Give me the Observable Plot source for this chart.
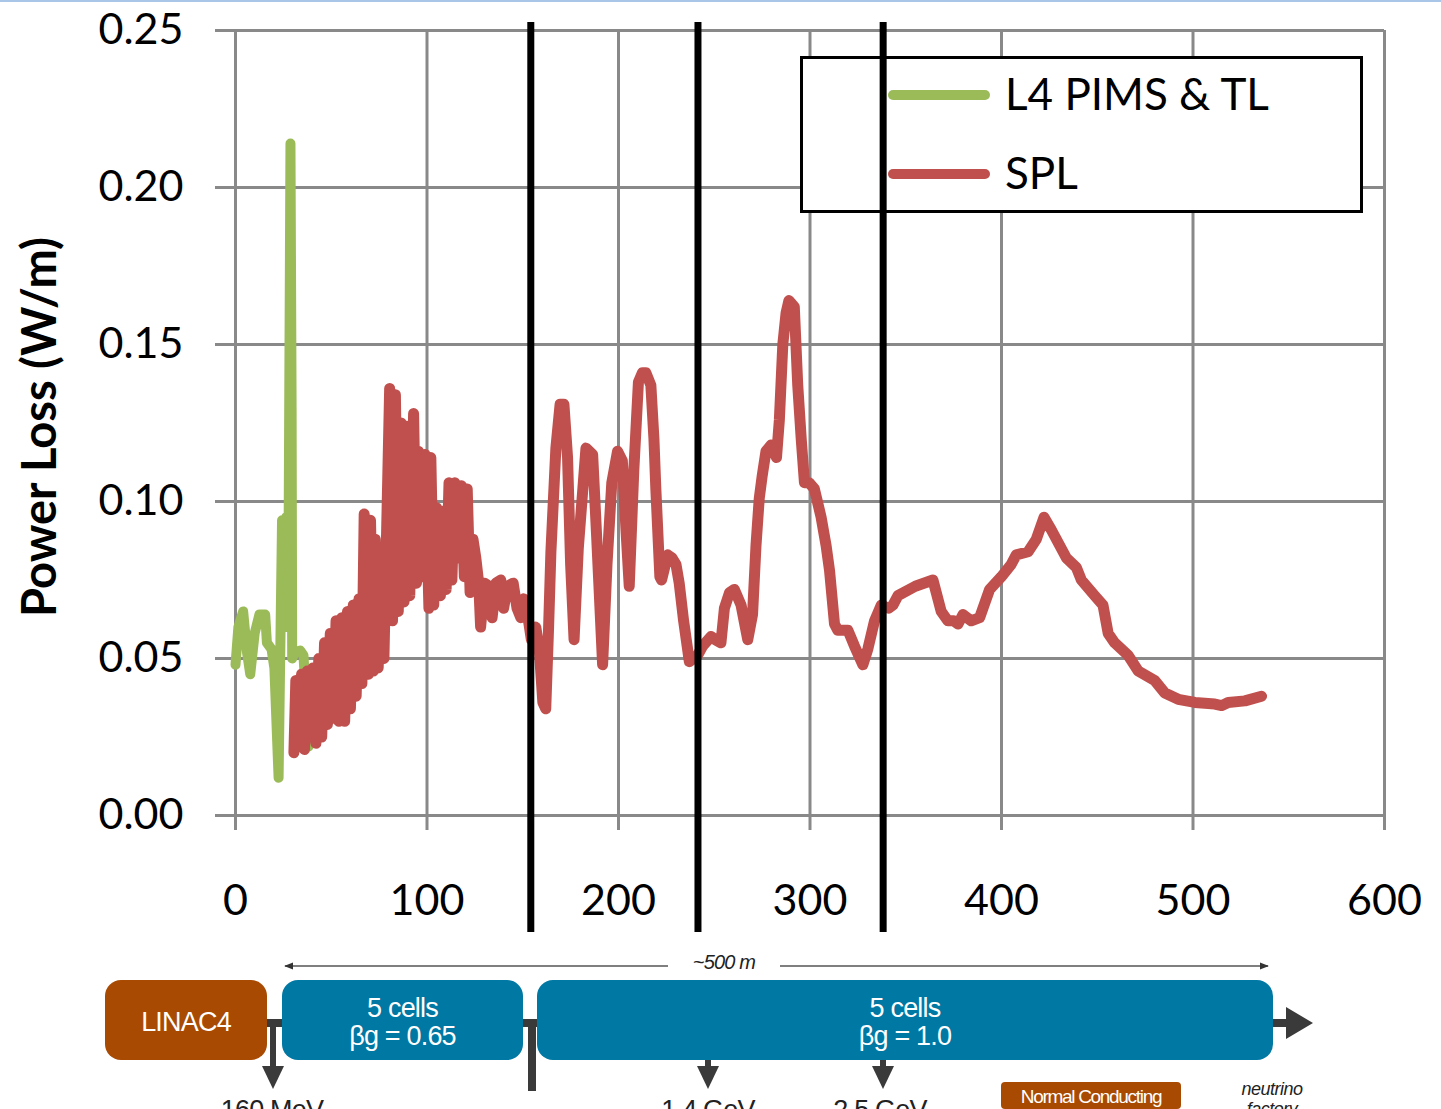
<!DOCTYPE html>
<html>
<head>
<meta charset="utf-8">
<script src="https://cdn.jsdelivr.net/npm/d3@7"></script>
<script src="https://cdn.jsdelivr.net/npm/@observablehq/plot@0.6"></script>
<style>
  html, body { margin: 0; padding: 0; background: #fff; }
  #stage { position: relative; width: 1441px; height: 1109px; overflow: hidden; background: #fff; border-top: 2px solid #a9c6e8; box-sizing: border-box; }
  #stage > * { position: absolute; left: 0; top: 0; }
  #legend { left: 800px; top: 54px; width: 557px; height: 151px; border: 3px solid #000; background: #fff; font-family: Lato, "Open Sans", sans-serif; font-size: 44px; color: #000; }
  #legend .sw { position: absolute; left: 85px; width: 102px; height: 10px; border-radius: 5px; }
  #legend .lb { position: absolute; left: 202px; line-height: 1; }
  #schem text { font-family: "Liberation Sans", Arial, sans-serif; }
</style>
</head>
<body>
<div id="stage"></div>
<script>
// ---------------- data ----------------
const seriesNames = ["L4 PIMS & TL", "SPL"];
const seriesColors = ["#9BBB59", "#C0504D"];
const xTicks = [0, 100, 200, 300, 400, 500, 600];
const yTicks = [0, 0.05, 0.10, 0.15, 0.20, 0.25];
const yLabel = "Power Loss (W/m)";
const sectionBounds = [154.2, 241.5, 338.2];

// L4 PIMS & TL (green)
const l4Pims = [
  [0,0.048],[1.5,0.060],[4,0.065],[6,0.052],[7.7,0.045],[10,0.058],[12.5,0.064],[15.5,0.064],
  [16.4,0.055],[18.8,0.053],[20.3,0.047],[22.5,0.012],[24.3,0.094],[25.5,0.060],[26.5,0.095],
  [27.5,0.060],[28.7,0.214],[29.3,0.130],[29.6,0.050],[31,0.052],[33.8,0.0525],[35.5,0.051],[38.2,0.022]
];

// SPL (red)
const spl = [
  [30.5,0.020],[31.5,0.043],[33,0.028],[34.5,0.045],[36,0.021],[37.5,0.046],[39,0.025],[40.5,0.047],
  [42,0.023],[43.5,0.050],[45,0.025],[46.5,0.055],[48,0.029],[49.5,0.058],[51,0.031],[52.5,0.062],
  [54,0.030],[55.5,0.063],[57,0.030],[58.5,0.065],[60,0.034],[61.5,0.067],[63,0.038],[64.5,0.069],
  [66,0.042],[67.2,0.096],[68.5,0.082],[69.5,0.045],[70.5,0.094],[72,0.046],[73,0.088],[74.5,0.047],
  [76,0.072],[77.5,0.050],[80.5,0.136],[82,0.062],[83.5,0.134],[85,0.065],[86.5,0.125],[88,0.068],
  [89.5,0.124],[91,0.070],[93,0.128],[94.5,0.074],[95.5,0.116],[97,0.076],[99,0.115],[101,0.066],
  [102,0.114],[103.5,0.067],[105,0.098],[107,0.070],[108.5,0.097],[110,0.072],[111.5,0.106],[113,0.075],
  [114.5,0.106],[116,0.082],[118,0.105],[119.5,0.076],[121,0.104],[122.5,0.071],[124,0.088],[125.5,0.082],
  [127,0.074],[128,0.060],[130,0.074],[132.5,0.073],[134,0.063],[136,0.074],[138.5,0.075],[140,0.066],
  [142,0.073],[145,0.074],[147,0.066],[149,0.063],[150.5,0.069],[152.5,0.064],[154.5,0.056],[156.8,0.060],
  [158.6,0.053],[160.5,0.036],[162,0.034],[163.5,0.060],[164.7,0.084],[167.3,0.117],[169.5,0.131],[171.5,0.131],
  [173.4,0.114],[175,0.080],[176.8,0.056],[179,0.085],[183,0.117],[186.5,0.115],[188.5,0.090],[191.7,0.048],
  [194,0.080],[196.5,0.106],[199.5,0.116],[202,0.113],[204,0.090],[205.6,0.073],[208,0.110],[210.4,0.138],
  [212.5,0.141],[214.3,0.141],[216.9,0.137],[218.5,0.120],[219.5,0.104],[221.6,0.076],[222.5,0.075],[225.7,0.083],
  [228,0.082],[230,0.080],[231.7,0.074],[234,0.062],[237,0.049],[241.3,0.051],[244,0.054],[248.3,0.057],
  [250.5,0.056],[253.5,0.055],[255.3,0.066],[258,0.071],[260.5,0.072],[264,0.067],[267.5,0.056],[270,0.064],
  [271.8,0.086],[273.5,0.101],[275,0.108],[277,0.116],[279.7,0.118],[282.5,0.114],[284,0.126],[285.8,0.150],
  [287.5,0.160],[289,0.164],[291.8,0.162],[293.6,0.137],[295.4,0.120],[297.1,0.106],[299.5,0.106],[302.3,0.104],
  [305.8,0.095],[308.4,0.086],[310.2,0.078],[312.8,0.061],[314.5,0.059],[319.8,0.059],[323.2,0.054],[327.6,0.048],
  [330.2,0.053],[333.7,0.062],[337.2,0.067],[341,0.066],[343.3,0.067],[345.9,0.070],[355,0.073],[364.2,0.075],
  [368.5,0.065],[372,0.062],[375,0.062],[377.3,0.061],[379.9,0.064],[384.2,0.062],[388.6,0.063],[393.8,0.072],
  [399.9,0.076],[405.1,0.080],[407.7,0.083],[413.9,0.084],[418.2,0.088],[422.2,0.095],[426,0.091],[433.9,0.082],
  [439.1,0.079],[441.7,0.075],[448.7,0.070],[453,0.067],[455.7,0.058],[459.1,0.055],[466.1,0.051],[471.4,0.046],
  [480,0.043],[485.3,0.039],[492.3,0.037],[501,0.036],[511.4,0.0355],[515,0.035],[518.4,0.036],[527.1,0.0365],
  [535.8,0.038]
];

// schematic below the chart
const stageBoxes = [
  {name: "LINAC4", lines: ["LINAC4"], kind: "nc"},
  {name: "b065", lines: ["5 cells", "βg = 0.65"], kind: "sc"},
  {name: "b10", lines: ["5 cells", "βg = 1.0"], kind: "sc"}
];
const energyLabels = ["160 MeV", "1.4 GeV", "2.5 GeV"];
const lengthLabel = "~500 m";
const ncLabel = "Normal Conducting";
const destLabel = ["neutrino", "factory"];

// ---------------- chart ----------------
const W = 1441, H = 945;
const common = {
  width: W, height: H,
  marginTop: 28, marginLeft: 235, marginRight: 57, marginBottom: 132
};
const stage = document.getElementById("stage");

const chart = Plot.plot({
  ...common,
  style: {fontFamily: "Lato, 'Open Sans', sans-serif", fontSize: "43px", color: "#000", background: "transparent", overflow: "visible"},
  x: {domain: [0, 600], ticks: xTicks, tickSize: 0, tickPadding: 69, label: null, tickFormat: d => String(d)},
  y: {domain: [0, 0.25], ticks: yTicks, tickSize: 0, tickPadding: 52, label: null, tickFormat: d => d.toFixed(2)},
  marks: [
    Plot.ruleX(xTicks, {x: d => d, stroke: "#898989", strokeWidth: 3, strokeOpacity: 1, insetBottom: -15}),
    Plot.ruleY(yTicks, {y: d => d, stroke: "#898989", strokeWidth: 3, strokeOpacity: 1, insetLeft: -20}),
    Plot.line(l4Pims, {stroke: seriesColors[0], strokeWidth: 10, strokeLinejoin: "round", strokeLinecap: "round"}),
    Plot.line(spl, {stroke: seriesColors[1], strokeWidth: 11, strokeLinejoin: "round", strokeLinecap: "round"}),
    Plot.text([yLabel], {text: d => d, frameAnchor: "left", dx: -195, dy: 4, rotate: -90, textAnchor: "middle",
      fontWeight: "bold", fontSize: 47, fill: "#000"})
  ]
});
stage.appendChild(chart);

// legend (HTML)
const legend = document.createElement("div");
legend.id = "legend";
seriesNames.forEach((n, i) => {
  const cy = [36, 115][i];
  const sw = document.createElement("div");
  sw.className = "sw"; sw.style.background = seriesColors[i]; sw.style.top = (cy - 5) + "px";
  const lb = document.createElement("div");
  lb.className = "lb"; lb.textContent = n; lb.style.top = (cy - 24) + "px";
  legend.appendChild(sw); legend.appendChild(lb);
});
stage.appendChild(legend);

// section boundaries overlay (on top of legend)
const overlay = Plot.plot({
  ...common,
  style: {background: "transparent", overflow: "visible"},
  x: {domain: [0, 600], axis: null},
  y: {domain: [0, 0.25], axis: null},
  marks: [
    Plot.ruleX(sectionBounds, {x: d => d, stroke: "#000", strokeWidth: 7, insetTop: -8, insetBottom: -117})
  ]
});
stage.appendChild(overlay);

// ---------------- schematic ----------------
const svg = d3.select(stage).append("svg").attr("id", "schem").attr("width", W).attr("height", 1109);
const defs = svg.append("defs");
defs.append("marker").attr("id", "ah").attr("viewBox", "0 0 10 10").attr("refX", 9).attr("refY", 5)
  .attr("markerWidth", 6).attr("markerHeight", 6).attr("orient", "auto-start-reverse")
  .append("path").attr("d", "M0,1 L10,5 L0,9 Z").attr("fill", "#333");

const brown = "#A84A02", blue = "#0078A4", dark = "#3a3a3a";
// dimension line
svg.append("line").attr("x1", 285).attr("x2", 1268).attr("y1", 964).attr("y2", 964)
  .attr("stroke", "#555").attr("stroke-width", 1.5)
  .attr("marker-start", "url(#ah)").attr("marker-end", "url(#ah)");
svg.append("rect").attr("x", 668).attr("y", 950).attr("width", 112).attr("height", 26).attr("fill", "#fff");
svg.append("text").attr("x", 724).attr("y", 967).attr("text-anchor", "middle").attr("font-size", 20)
  .attr("font-style", "italic").attr("letter-spacing", -0.8).attr("fill", "#222").text(lengthLabel);
// beam line
svg.append("line").attr("x1", 262).attr("x2", 1292).attr("y1", 1021).attr("y2", 1021)
  .attr("stroke", dark).attr("stroke-width", 8);
svg.append("path").attr("d", "M1286,1005 L1313,1021 L1286,1037 Z").attr("fill", dark);
// down arrows / bar
[[273, 1025], [708, 1056], [883, 1056]].forEach(([x, y0]) => {
  svg.append("line").attr("x1", x).attr("x2", x).attr("y1", y0).attr("y2", 1070).attr("stroke", dark).attr("stroke-width", 6);
  svg.append("path").attr("d", `M${x - 11},${1064} L${x + 11},${1064} L${x},${1087} Z`).attr("fill", dark);
});
svg.append("line").attr("x1", 532).attr("x2", 532).attr("y1", 1017).attr("y2", 1089).attr("stroke", dark).attr("stroke-width", 8);
// boxes
const boxGeom = [[105, 162], [282, 241], [537, 736]];
stageBoxes.forEach((b, i) => {
  const [x, w] = boxGeom[i];
  svg.append("rect").attr("x", x).attr("y", 978).attr("width", w).attr("height", 80).attr("rx", 16)
    .attr("fill", b.kind === "nc" ? brown : blue);
  const cx = x + w / 2;
  if (b.lines.length === 1) {
    svg.append("text").attr("x", cx).attr("y", 1029).attr("text-anchor", "middle").attr("font-size", 27)
      .attr("fill", "#fff").attr("letter-spacing", -0.8).text(b.lines[0]);
  } else {
    b.lines.forEach((t, j) => svg.append("text").attr("x", cx).attr("y", 1015 + j * 28)
      .attr("text-anchor", "middle").attr("font-size", 27).attr("fill", "#fff").attr("letter-spacing", -0.8).text(t));
  }
});
// energy labels (cut off at the bottom, as in the source figure)
[[272, energyLabels[0]], [708, energyLabels[1]], [880, energyLabels[2]]].forEach(([x, t]) => {
  svg.append("text").attr("x", x).attr("y", 1117).attr("text-anchor", "middle").attr("font-size", 27)
    .attr("letter-spacing", -0.8).attr("fill", "#222").text(t);
});
// normal conducting
svg.append("rect").attr("x", 1001).attr("y", 1080).attr("width", 180).attr("height", 27).attr("rx", 4).attr("fill", brown);
svg.append("text").attr("x", 1091).attr("y", 1101).attr("text-anchor", "middle").attr("font-size", 19)
  .attr("letter-spacing", -1.3).attr("fill", "#fff").text(ncLabel);
destLabel.forEach((t, j) => svg.append("text").attr("x", 1272).attr("y", 1093 + j * 20).attr("text-anchor", "middle")
  .attr("font-size", 18).attr("font-style", "italic").attr("letter-spacing", -0.5).attr("fill", "#222").text(t));
</script>
</body>
</html>
